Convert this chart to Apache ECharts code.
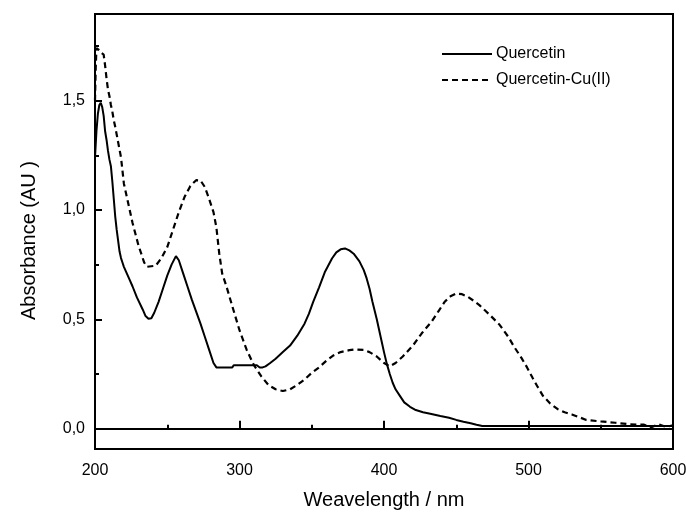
<!DOCTYPE html>
<html>
<head>
<meta charset="utf-8">
<script src="https://cdn.jsdelivr.net/npm/echarts@6/dist/echarts.min.js"></script>
<style>
html,body{margin:0;padding:0;background:#fff;}
#chart{width:686px;height:512px;}
</style>
</head>
<body>
<div id="chart"></div>
<script>
// ---- Data ----
var seriesNames = ['Quercetin', 'Quercetin-Cu(II)'];

var quercetinX = [200,201,202,203,204,205,206,207,208,209,210,211,212,213,214,215,216,217,218,219,220,222,224,226,229,233,235,237,239,241,244,247,250,253,256,258,261,264,267,270,273,276,279,282,284,295,296,312,314,316,318,321,325,330,335,340,345,348,351,355,359,364,367,370,373,376,379,383,386,388,390,392,395,398,400,402,404,406,408,411,414,418,422,427,432,439,445,450,455,460,464,468,480,500,550,600];
var quercetinY = [1.24,1.36,1.44,1.48,1.49,1.47,1.43,1.36,1.32,1.27,1.23,1.20,1.13,1.05,0.97,0.91,0.86,0.81,0.78,0.76,0.74,0.71,0.68,0.65,0.60,0.545,0.515,0.503,0.505,0.53,0.58,0.64,0.70,0.75,0.789,0.77,0.71,0.65,0.59,0.535,0.48,0.42,0.36,0.30,0.28,0.28,0.29,0.29,0.28,0.28,0.285,0.299,0.32,0.35,0.38,0.425,0.48,0.525,0.58,0.645,0.715,0.778,0.806,0.82,0.824,0.815,0.80,0.765,0.725,0.687,0.64,0.58,0.50,0.41,0.35,0.295,0.25,0.21,0.18,0.15,0.12,0.10,0.085,0.075,0.068,0.058,0.05,0.04,0.032,0.025,0.018,0.012,0.012,0.012,0.012,0.012];

var cuX = [200,200.5,201,202,203,204,205,206,207,208,209,210,211,212,213,214,216,218,220,222,224,226,228,230,232,234,236,242,246,250,254,258,262,266,270,273,276,279,282,284,286,288,291,295,300,305,310,315,320,325,330,335,340,345,350,355,360,365,370,376,380,386,390,395,400,404,408,413,420,426,433,438,442,446,450,454,458,462,466,470,474,480,486,490,495,499,503,506,510,515,520,525,530,540,550,560,570,580,585,590,595,600];
var cuY = [1.50,1.65,1.74,1.745,1.73,1.72,1.725,1.71,1.66,1.60,1.55,1.52,1.48,1.45,1.41,1.38,1.31,1.24,1.12,1.06,1.00,0.94,0.89,0.84,0.80,0.76,0.74,0.745,0.78,0.83,0.91,0.99,1.06,1.11,1.136,1.135,1.105,1.05,0.99,0.92,0.80,0.71,0.65,0.56,0.45,0.36,0.29,0.24,0.20,0.18,0.172,0.18,0.20,0.225,0.255,0.28,0.31,0.335,0.35,0.359,0.362,0.36,0.35,0.33,0.30,0.285,0.30,0.33,0.38,0.435,0.49,0.54,0.58,0.605,0.618,0.615,0.603,0.585,0.565,0.54,0.515,0.475,0.42,0.375,0.325,0.28,0.23,0.195,0.15,0.115,0.09,0.075,0.065,0.04,0.033,0.027,0.02,0.018,0.006,0.02,0.008,0.015];

var xTickValues = [200, 300, 400, 500, 600];
var xTickLabels = ['200', '300', '400', '500', '600'];
var yTickValues = [0, 0.5, 1.0, 1.5];
var yTickLabels = ['0,0', '0,5', '1,0', '1,5'];
var yMinorTickValues = [0.25, 0.75, 1.25, 1.75];

var xTitle = 'Weavelength / nm';
var yTitle = 'Absorbance (AU )';

function zip(xs, ys) {
  var out = [];
  for (var i = 0; i < xs.length; i++) out.push([xs[i], ys[i]]);
  return out;
}

var FONT = 'Liberation Sans, Arial, sans-serif';
var chart = echarts.init(document.getElementById('chart'), null, {renderer: 'canvas'});

var option = {
  backgroundColor: '#fff',
  animation: false,
  grid: {
    left: 95, right: 13, top: 14, bottom: 63,
    containLabel: false, outerBoundsMode: 'none',
    show: true, borderColor: '#000', borderWidth: 2, backgroundColor: 'transparent'
  },
  legend: {
    orient: 'vertical',
    left: 436, top: 41,
    itemWidth: 50, itemHeight: 14, itemGap: 10,
    itemStyle: {opacity: 0},
    textStyle: {fontFamily: FONT, fontSize: 16, color: '#000', padding: [0,0,0,-1]},
    data: seriesNames
  },
  xAxis: {
    type: 'value', min: 200, max: 600, interval: 100,
    name: xTitle, nameLocation: 'middle', nameGap: 41,
    nameTextStyle: {fontFamily: FONT, fontSize: 20, color: '#000'},
    axisLine: {show: true, lineStyle: {color: '#000', width: 2}},
    axisTick: {show: true, inside: true, length: 8, lineStyle: {color: '#000', width: 2}},
    minorTick: {show: true, splitNumber: 2, length: 4, lineStyle: {color: '#000', width: 2}},
    splitLine: {show: false},
    axisLabel: {
      fontFamily: FONT, fontSize: 16, color: '#000', margin: 14,
      formatter: function (v) { var i = xTickValues.indexOf(v); return i >= 0 ? xTickLabels[i] : ''; }
    }
  },
  yAxis: [{
    type: 'value', min: -0.093, max: 1.896,
    name: yTitle, nameLocation: 'middle', nameGap: 56,
    nameTextStyle: {fontFamily: FONT, fontSize: 20, color: '#000', padding: [0, 18, 0, 0]},
    axisLine: {show: true, lineStyle: {color: '#000', width: 2}},
    axisTick: {show: true, inside: true, length: 7, customValues: yTickValues, lineStyle: {color: '#000', width: 2}},
    splitLine: {show: false},
    axisLabel: {
      fontFamily: FONT, fontSize: 16, color: '#000', margin: 10,
      customValues: yTickValues,
      formatter: function (v) {
        for (var i = 0; i < yTickValues.length; i++) if (Math.abs(yTickValues[i] - v) < 1e-9) return yTickLabels[i];
        return '';
      }
    }
  }, {
    type: 'value', min: -0.093, max: 1.896, position: 'left',
    axisLine: {show: false},
    axisTick: {show: true, inside: true, length: 4, customValues: yMinorTickValues, lineStyle: {color: '#000', width: 2}},
    axisLabel: {show: false},
    splitLine: {show: false}
  }],
  series: [{
    name: seriesNames[0], type: 'line', symbol: 'none', smooth: false,
    lineStyle: {color: '#000', width: 2, type: 'solid'},
    itemStyle: {color: '#000'},
    data: zip(quercetinX, quercetinY)
  }, {
    name: seriesNames[1], type: 'line', symbol: 'none', smooth: false,
    lineStyle: {color: '#000', width: 2.2, type: [6, 4]},
    itemStyle: {color: '#000'},
    data: zip(cuX, cuY)
  }]
};
chart.setOption(option);
</script>
</body>
</html>
